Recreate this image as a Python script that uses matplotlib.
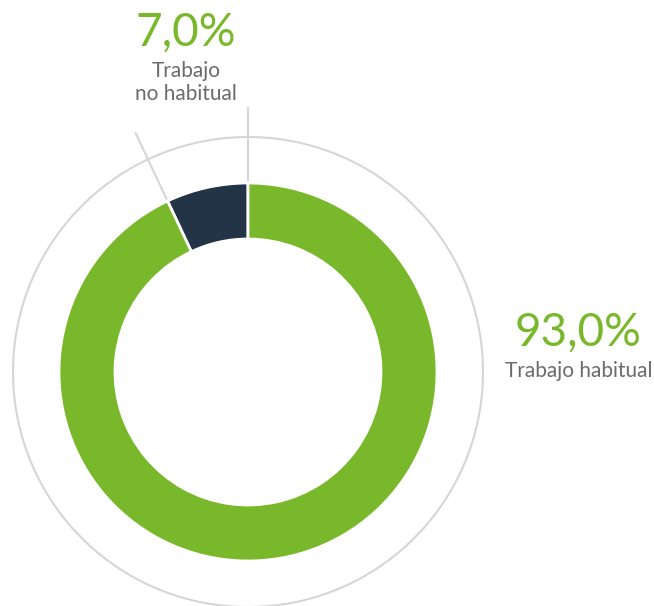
import matplotlib.pyplot as plt
import numpy as np

labels = ["Trabajo\nno habitual", "Trabajo habitual"]
values = [7.0, 93.0]
value_labels = ["7,0%", "93,0%"]
colors = ["#233447", "#78b82a"]

W, H = 654, 606
cx, cy = 248, H - 372
r_out, r_in, r_ring = 189, 133, 235

fig = plt.figure(figsize=(W / 100, H / 100), dpi=100)
ax = fig.add_axes([0, 0, 1, 1])

ax.pie(values, colors=colors, startangle=90, counterclock=True, center=(cx, cy),
       radius=r_out, wedgeprops=dict(width=r_out - r_in, edgecolor="white", linewidth=2))

# outer light ring
t = np.linspace(0, 2 * np.pi, 400)
ax.plot(cx + r_ring * np.cos(t), cy + r_ring * np.sin(t), color="#d6d6d6", lw=1.5, zorder=0)

# leader lines along the slice edges
for ang in [90, 90 + values[0] / 100 * 360]:
    a = np.deg2rad(ang)
    ax.plot([cx + 190 * np.cos(a), cx + 264 * np.cos(a)],
            [cy + 190 * np.sin(a), cy + 264 * np.sin(a)], color="#d6d6d6", lw=1.5, zorder=0)

green = "#78b82a"
grey = "#6b6b6b"
font = ["Lato", "DejaVu Sans"]
ax.text(186, H - 46, value_labels[0], color=green, fontsize=33, ha="center", va="baseline",
        family=font)
ax.text(186, H - 77, "Trabajo", color=grey, fontsize=15, ha="center", va="baseline",
        family=font)
ax.text(186, H - 100, "no habitual", color=grey, fontsize=15, ha="center", va="baseline",
        family=font)
ax.text(578, H - 346, value_labels[1], color=green, fontsize=33, ha="center", va="baseline",
        family=font)
ax.text(579, H - 377, labels[1], color=grey, fontsize=15, ha="center", va="baseline",
        family=font)

ax.set_xlim(0, W)
ax.set_ylim(0, H)
ax.set_aspect("equal")
ax.axis("off")

fig.savefig("out.png", dpi=100, facecolor="white")
